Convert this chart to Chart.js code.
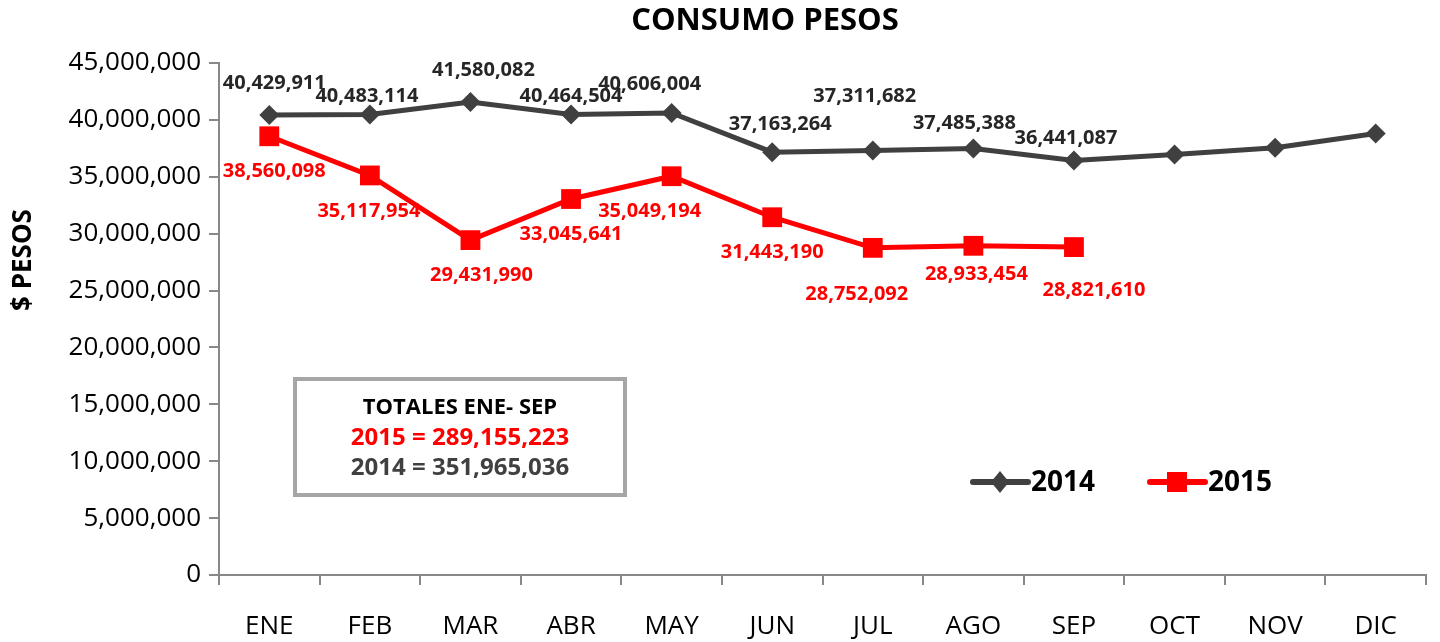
<!DOCTYPE html>
<html>
<head>
<meta charset="utf-8">
<script src="https://cdn.jsdelivr.net/npm/chart.js@4.4.1/dist/chart.umd.min.js"></script>
<style>
  html, body { margin: 0; padding: 0; background: #fff; }
  #wrap { width: 1440px; height: 642px; }
</style>
</head>
<body>
<div id="wrap"><canvas id="myChart"></canvas></div>
<script>
 /*Consumo pesos*/

 const meses = ['ENE', 'FEB', 'MAR', 'ABR', 'MAY', 'JUN', 'JUL', 'AGO', 'SEP', 'OCT', 'NOV', 'DIC'];
 const pesos2014 = [40429911, 40483114, 41580082, 40464504, 40606004, 37163264, 37311682, 37485388, 36441087, 36950000, 37550000, 38800000];
 const pesos2015 = [38560098, 35117954, 29431990, 33045641, 35049194, 31443190, 28752092, 28933454, 28821610];
 const etiquetados2014 = 9; // solo ENE-SEP llevan etiqueta
 const yMax = 45000000;
 const yPaso = 5000000;

 const FONT = "'Open Sans', sans-serif";
 const fmt = v => v.toLocaleString('en-US');
 const suma = arr => arr.slice(0, 9).reduce((a, b) => a + b, 0);

 // etiquetas de datos (movidas a mano como en el original)
 const etiquetas = {
     id: 'etiquetas',
     afterDatasetsDraw(chart, args, opts) {
         const ctx = chart.ctx;
         ctx.save();
         ctx.font = 'bold 20px ' + FONT;
         ctx.textAlign = 'center';
         ctx.textBaseline = 'middle';
         chart.data.datasets.forEach((ds, i) => {
             const meta = chart.getDatasetMeta(i);
             const nudge = opts.nudge[i];
             meta.data.forEach((pt, j) => {
                 if (i === 0 && j >= etiquetados2014) return;
                 ctx.fillStyle = i === 0 ? '#262626' : '#ff0000';
                 ctx.fillText(fmt(ds.data[j]), pt.x + nudge[j][0], pt.y + nudge[j][1]);
             });
         });
         ctx.restore();
     }
 };

 // titulo, titulo del eje, cuadro de totales y leyenda
 const cuadro = {
     id: 'cuadro',
     afterDraw(chart) {
         const ctx = chart.ctx;
         ctx.save();
         ctx.textAlign = 'center';
         ctx.textBaseline = 'middle';
         ctx.fillStyle = '#000';
         ctx.font = 'bold 31px ' + FONT;
         ctx.fillText('CONSUMO PESOS', 765, 21);

         ctx.save();
         ctx.translate(24, 260);
         ctx.rotate(-Math.PI / 2);
         ctx.font = 'bold 26px ' + FONT;
         ctx.fillText('$ PESOS', 0, 0);
         ctx.restore();

         ctx.strokeStyle = '#a6a6a6';
         ctx.lineWidth = 4;
         ctx.fillStyle = '#fff';
         ctx.fillRect(295, 379, 330, 116);
         ctx.strokeRect(295, 379, 330, 116);
         ctx.fillStyle = '#000';
         ctx.font = 'bold 22px ' + FONT;
         ctx.fillText('TOTALES ENE- SEP', 460, 408);
         ctx.font = 'bold 24px ' + FONT;
         ctx.fillStyle = '#ff0000';
         ctx.fillText('2015 = ' + fmt(suma(pesos2015)), 460, 438);
         ctx.fillStyle = '#404040';
         ctx.fillText('2014 = ' + fmt(suma(pesos2014)), 460, 468);

         // leyenda
         const items = [
             { x: 973, color: '#404040', style: 'rectRot', text: '2014' },
             { x: 1150, color: '#ff0000', style: 'rect', text: '2015' }
         ];
         items.forEach(it => {
             ctx.strokeStyle = it.color;
             ctx.lineWidth = 6;
             ctx.lineCap = 'round';
             ctx.beginPath();
             ctx.moveTo(it.x, 482);
             ctx.lineTo(it.x + 55, 482);
             ctx.stroke();
             ctx.fillStyle = it.color;
             if (it.style === 'rect') ctx.fillRect(it.x + 17, 472, 20, 20);
             else {
                 ctx.beginPath();
                 ctx.moveTo(it.x + 27, 471); ctx.lineTo(it.x + 36, 482);
                 ctx.lineTo(it.x + 27, 493); ctx.lineTo(it.x + 18, 482);
                 ctx.closePath(); ctx.fill();
             }
             ctx.fillStyle = '#000';
             ctx.font = 'bold 28px ' + FONT;
             ctx.textAlign = 'left';
             ctx.fillText(it.text, it.x + 58, 483);
         });
         ctx.restore();
     }
 };

 const ctx = document.getElementById('myChart').getContext('2d');
 const myChart = new Chart(ctx, {
     type: 'line',
     data: {
         labels: meses,
         datasets: [{
             label: '2014',
             data: pesos2014,
             borderColor: '#404040',
             backgroundColor: '#404040',
             borderWidth: 5,
             pointStyle: 'rectRot',
             pointRadius: 10,
             pointHoverRadius: 10,
             pointBorderWidth: 0,
             tension: 0
         }, {
             label: '2015',
             data: pesos2015,
             borderColor: '#ff0000',
             backgroundColor: '#ff0000',
             borderWidth: 5,
             pointStyle: 'rect',
             pointRadius: 14,
             pointHoverRadius: 14,
             pointBorderWidth: 0,
             tension: 0
         }]
     },
     options: {
         responsive: true,
         maintainAspectRatio: false,
         animation: false,
         layout: { padding: { left: 0, right: -7, top: 63, bottom: 0 } },
         plugins: {
             legend: { display: false },
             tooltip: { enabled: false },
             title: { display: false },
             etiquetas: {
                 nudge: [
                     [[5, -32], [-3, -18], [13, -32], [0, -18], [-22, -29], [8, -28], [-8, -54], [-9, -25], [-8, -22]],
                     [[5, 35], [-1, 36], [11, 35], [0, 35], [-22, 35], [0, 35], [-16, 46], [3, 28], [20, 43]]
                 ]
             }
         },
         scales: {
             x: {
                 offset: true,
                 afterFit: s => { s.height = 67; },
                 grid: { display: true, drawOnChartArea: false, offset: true, tickLength: 10, color: '#888', lineWidth: 2 },
                 border: { color: '#888', width: 2 },
                 ticks: { color: '#000', font: { family: FONT, size: 26 }, padding: 26 }
             },
             y: {
                 min: 0,
                 max: yMax,
                 afterFit: s => { s.width = 219; },
                 grid: { display: true, drawOnChartArea: false, tickLength: 10, color: '#888', lineWidth: 2 },
                 border: { color: '#888', width: 2 },
                 ticks: {
                     stepSize: yPaso,
                     color: '#000',
                     padding: 8,
                     font: { family: FONT, size: 26 },
                     callback: v => fmt(v)
                 }
             }
         }
     },
     plugins: [etiquetas, cuadro]
 });

 /*Consumo pesos*/
</script>
</body>
</html>
